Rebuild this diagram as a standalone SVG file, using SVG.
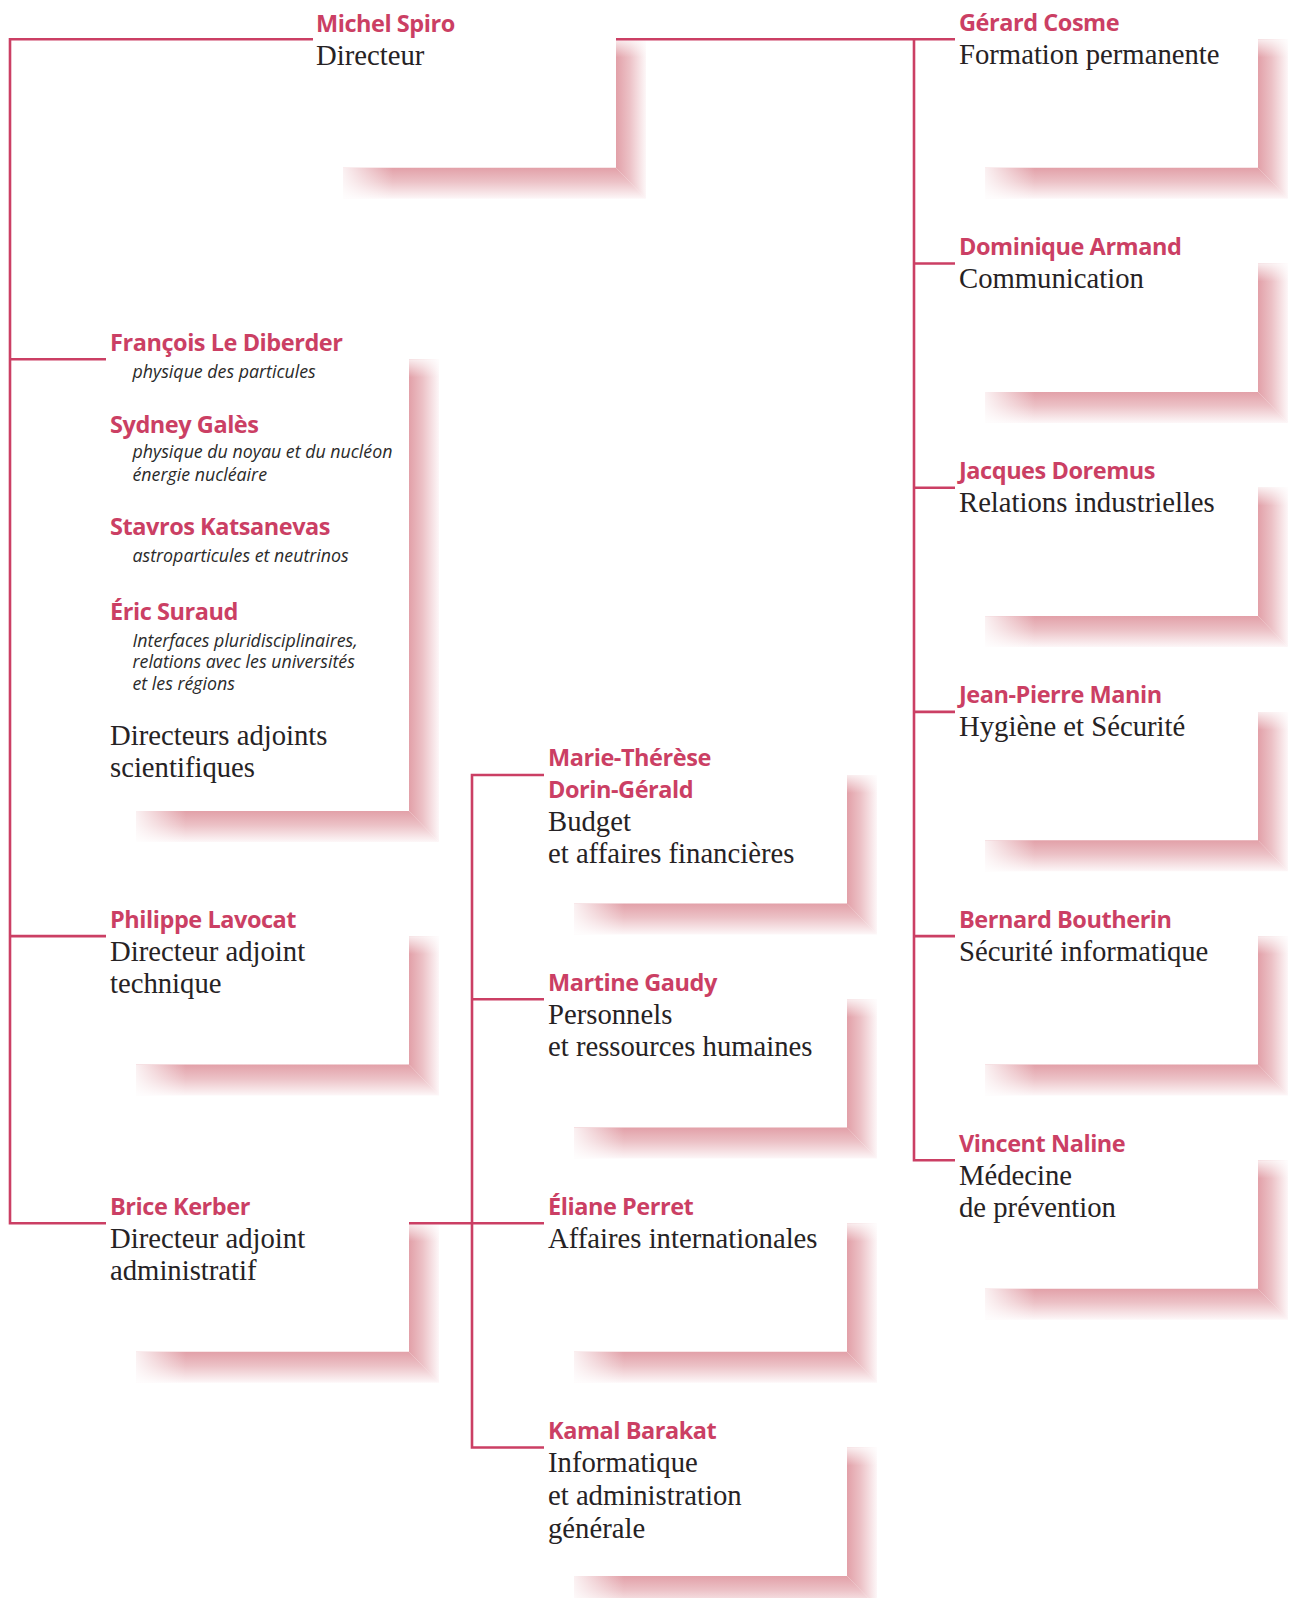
<svg xmlns="http://www.w3.org/2000/svg" xmlns:xlink="http://www.w3.org/1999/xlink" width="1293" height="1598" viewBox="0 0 1293 1598">
<style>
.n{font-family:"Open Sans","Liberation Sans",sans-serif;font-weight:700;font-size:23.5px;letter-spacing:-0.45px;fill:#cb3f64}
.r{font-family:"Liberation Serif",serif;font-size:28.7px;fill:#262224}
.i{font-family:"Open Sans","Liberation Sans",sans-serif;font-style:italic;font-size:17.8px;fill:#2a2a2a}
.c{fill:none;stroke:#cb3f64;stroke-width:2.6;stroke-linejoin:miter}
</style>
<defs>
<linearGradient id="gH" x1="0" y1="0" x2="1" y2="0"><stop offset="0" stop-color="#e2a0a8"/><stop offset="0.45" stop-color="#ecc1c6"/><stop offset="1" stop-color="#fdf7f8"/></linearGradient>
<linearGradient id="gV" x1="0" y1="0" x2="0" y2="1"><stop offset="0" stop-color="#e2a0a8"/><stop offset="0.45" stop-color="#ecc1c6"/><stop offset="1" stop-color="#fdf7f8"/></linearGradient>
<linearGradient id="fL" x1="0" y1="0" x2="1" y2="0"><stop offset="0" stop-color="#fff" stop-opacity="0.85"/><stop offset="1" stop-color="#fff" stop-opacity="0"/></linearGradient>
<linearGradient id="fT" x1="0" y1="0" x2="0" y2="1"><stop offset="0" stop-color="#fff" stop-opacity="0.8"/><stop offset="1" stop-color="#fff" stop-opacity="0"/></linearGradient>
<g id="sh">
<path d="M303,0H333V159.4L303,128.4Z" fill="url(#gH)"/>
<path d="M30,128.4H303L333,159.4H30Z" fill="url(#gV)"/>
<rect x="30" y="128.4" width="50" height="31" fill="url(#fL)"/>
<rect x="303" y="0" width="30" height="18" fill="url(#fT)"/>
</g>
</defs>
<rect width="1293" height="1598" fill="#fff"/>

<g id="shadows">
<use xlink:href="#sh" href="#sh" x="313" y="39.3"/>
<use xlink:href="#sh" href="#sh" x="955" y="39.3"/>
<use xlink:href="#sh" href="#sh" x="955" y="263.5"/>
<use xlink:href="#sh" href="#sh" x="955" y="487.7"/>
<use xlink:href="#sh" href="#sh" x="955" y="711.9"/>
<use xlink:href="#sh" href="#sh" x="955" y="936.1"/>
<use xlink:href="#sh" href="#sh" x="955" y="1160.3"/>
<g transform="translate(106,359.3)">
<path d="M303,0H333V482.7L303,451.7Z" fill="url(#gH)"/>
<path d="M30,451.7H303L333,482.7H30Z" fill="url(#gV)"/>
<rect x="30" y="451.7" width="50" height="31" fill="url(#fL)"/>
<rect x="303" y="0" width="30" height="18" fill="url(#fT)"/>
</g>
<use xlink:href="#sh" href="#sh" x="106" y="936.1"/>
<use xlink:href="#sh" href="#sh" x="106" y="1223.3"/>
<use xlink:href="#sh" href="#sh" x="544" y="775"/>
<use xlink:href="#sh" href="#sh" x="544" y="999.2"/>
<use xlink:href="#sh" href="#sh" x="544" y="1223.3"/>
<use xlink:href="#sh" href="#sh" x="544" y="1447.5"/>
</g>

<g id="connectors">
<path class="c" d="M313,39.3H10V1223.3H106"/>
<path class="c" d="M10,359.3H106M10,936.1H106"/>
<path class="c" d="M616,39.3H955"/>
<path class="c" d="M914,39.3V1160.3H955"/>
<path class="c" d="M914,263.5H955M914,487.7H955M914,711.9H955M914,936.1H955"/>
<path class="c" d="M409,1223.3H544"/>
<path class="c" d="M544,775H472V1447.5H544"/>
<path class="c" d="M472,999.2H544"/>
</g>

<g id="michel" transform="translate(313,39.3)">
<text class="n" x="3" y="-7.5">Michel Spiro</text>
<text class="r" x="3" y="26">Directeur</text>
</g>
<g id="gerard" transform="translate(955,39.3)">
<text class="n" x="4" y="-8.5">Gérard Cosme</text>
<text class="r" x="4" y="24.5">Formation permanente</text>
</g>
<g id="dominique" transform="translate(955,263.5)">
<text class="n" x="4" y="-8.5">Dominique Armand</text>
<text class="r" x="4" y="24.5">Communication</text>
</g>
<g id="jacques" transform="translate(955,487.7)">
<text class="n" x="4" y="-8.5">Jacques Doremus</text>
<text class="r" x="4" y="24.5">Relations industrielles</text>
</g>
<g id="jeanpierre" transform="translate(955,711.9)">
<text class="n" x="4" y="-8.5">Jean-Pierre Manin</text>
<text class="r" x="4" y="24.5">Hygiène et Sécurité</text>
</g>
<g id="bernard" transform="translate(955,936.1)">
<text class="n" x="4" y="-8.5">Bernard Boutherin</text>
<text class="r" x="4" y="24.5">Sécurité informatique</text>
</g>
<g id="vincent" transform="translate(955,1160.3)">
<text class="n" x="4" y="-8.5">Vincent Naline</text>
<text class="r" x="4" y="24.5">Médecine</text>
<text class="r" x="4" y="57.2">de prévention</text>
</g>

<g id="scientifiques" transform="translate(106,359.3)">
<text class="n" x="4" y="-8.3">François Le Diberder</text>
<text class="i" x="26.5" y="18.7">physique des particules</text>
<text class="n" x="4" y="74">Sydney Galès</text>
<text class="i" x="26.5" y="98.7">physique du noyau et du nucléon</text>
<text class="i" x="26.5" y="121.7">énergie nucléaire</text>
<text class="n" x="4" y="175.7">Stavros Katsanevas</text>
<text class="i" x="26.5" y="202.4">astroparticules et neutrinos</text>
<text class="n" x="4" y="260.7">Éric Suraud</text>
<text class="i" x="26.5" y="287.4">Interfaces pluridisciplinaires,</text>
<text class="i" x="26.5" y="309">relations avec les universités</text>
<text class="i" x="26.5" y="330.7">et les régions</text>
<text class="r" x="4" y="385.7">Directeurs adjoints</text>
<text class="r" x="4" y="418.2">scientifiques</text>
</g>
<g id="philippe" transform="translate(106,936.1)">
<text class="n" x="4" y="-8.5">Philippe Lavocat</text>
<text class="r" x="4" y="24.5">Directeur adjoint</text>
<text class="r" x="4" y="57.2">technique</text>
</g>
<g id="brice" transform="translate(106,1223.3)">
<text class="n" x="4" y="-8.5">Brice Kerber</text>
<text class="r" x="4" y="24.5">Directeur adjoint</text>
<text class="r" x="4" y="57.2">administratif</text>
</g>

<g id="marie" transform="translate(544,775)">
<text class="n" x="4" y="-9">Marie-Thérèse</text>
<text class="n" x="4" y="23.3">Dorin-Gérald</text>
<text class="r" x="4" y="55.7">Budget</text>
<text class="r" x="4" y="88.3">et affaires financières</text>
</g>
<g id="martine" transform="translate(544,999.2)">
<text class="n" x="4" y="-8.5">Martine Gaudy</text>
<text class="r" x="4" y="24.5">Personnels</text>
<text class="r" x="4" y="57.2">et ressources humaines</text>
</g>
<g id="eliane" transform="translate(544,1223.3)">
<text class="n" x="4" y="-8.5">Éliane Perret</text>
<text class="r" x="4" y="24.5">Affaires internationales</text>
</g>
<g id="kamal" transform="translate(544,1447.5)">
<text class="n" x="4" y="-8.5">Kamal Barakat</text>
<text class="r" x="4" y="24.5">Informatique</text>
<text class="r" x="4" y="57.2">et administration</text>
<text class="r" x="4" y="90">générale</text>
</g>
</svg>
